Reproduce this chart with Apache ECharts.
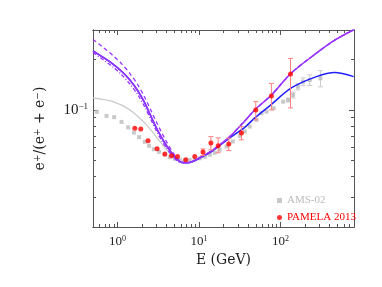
<!DOCTYPE html>
<html><head><meta charset="utf-8">
<script src="https://cdn.jsdelivr.net/npm/echarts@6/dist/echarts.min.js"></script>
<style>html,body{margin:0;padding:0;background:#fff}#c{width:382px;height:287px}</style>
</head><body><div id="c"></div><script>
// ---- model curves ----
const energyModel = [0.5,0.66,0.88,1.13,1.42,1.78,2.16,2.56,3.0,3.5,4.0,4.8,5.8,6.7,7.7,10.2,14.9,23.9,36.5,48.4,77.6,136,277,464,793];
const purpleSolid = [0.2254,0.2068,0.1878,0.1695,0.1509,0.1297,0.1101,0.0921,0.0781,0.0681,0.0611,0.054,0.0492,0.0484,0.0486,0.0518,0.0578,0.0693,0.086,0.100,0.1228,0.166,0.2184,0.261,0.301];
const purpleDashed = [0.2635,0.2371,0.2111,0.1878,0.1649,0.1408,0.1187,0.100,0.0848,0.073,0.0645,0.0555,0.0497,0.0484,0.0486,0.0518,0.0578,0.0693,0.086,0.100,0.1228,0.166,0.2184,0.261,0.301];
const purpleDashDot = [0.22,0.1998,0.1803,0.1615,0.1428,0.1228,0.1042,0.0878,0.075,0.0654,0.059,0.0525,0.0487,0.0484,0.0486,0.0518,0.0578,0.0693,0.086,0.100,0.1228,0.166,0.2184,0.261,0.301];
const blueSolid = [0.2254,0.2068,0.1878,0.1695,0.1509,0.1297,0.1101,0.0921,0.0781,0.0681,0.0611,0.054,0.0492,0.0484,0.0486,0.0515,0.0572,0.0681,0.0787,0.0896,0.108,0.1352,0.158,0.1672,0.158];
const energyGrey = [0.5,0.88,1.42,2.27,3.3,4.38,5.8,7.7];
const greyModel = [0.1179,0.112,0.100,0.0814,0.0648,0.0552,0.0504,0.049];
// ---- AMS-02 ----
const amsE = [0.557,0.733,0.908,1.12,1.35,1.59,1.84,2.16,2.44,2.79,3.24,3.81,4.38,5.05,5.81,6.70,7.71,8.88,10.2,11.8,13.6,15.6,18.0,21.8,26.0,31.7,36.5,42.0,50.8,58.5,67.3,82.7,108,124,143,164,189,229,310];
const amsV = [0.0973,0.0921,0.0905,0.0848,0.0787,0.0732,0.0688,0.0645,0.0611,0.0583,0.0562,0.054,0.0522,0.0511,0.0504,0.0499,0.0501,0.0506,0.0514,0.0525,0.054,0.0555,0.0578,0.0605,0.0648,0.07,0.0743,0.0795,0.0872,0.0956,0.0977,0.1023,0.112,0.1147,0.1228,0.1376,0.1474,0.151,0.1544];
const amsErr = [0,0,0,0,0,0,0,0,0,0,0,0,0,0,0,0,0,0,0,0,0,0,0,0,0,0,0,0,0,0,0,0,0,0.003,0.005,0.006,0.008,0.011,0.017];
// ---- PAMELA 2013 ----
const pamE = [1.63,1.93,2.37,3.06,3.81,4.60,5.45,6.89,8.88,11.2,14.0,17.2,23.2,33.2,49.8,77.5,133];
const pamV = [0.0778,0.0768,0.0654,0.0586,0.0545,0.0532,0.0527,0.0504,0.0527,0.056,0.0634,0.0611,0.0625,0.0727,0.100,0.121,0.164];
const pamLo = [null,null,null,null,null,null,null,null,null,0.0535,0.0578,0.0555,0.0572,0.0663,0.0872,0.100,0.1028];
const pamHi = [null,null,null,null,null,null,null,null,null,0.0585,0.0693,0.0681,0.0678,0.0795,0.112,0.144,0.203];
// ---- ticks ----
const xMajor = [1,10,100];
const xMinor = [0.6,0.7,0.8,0.9,2,3,4,5,6,7,8,9,20,30,40,50,60,70,80,90,200,300,400,500,600,700];
const yMajor = [0.1];
const yMinor = [0.03,0.04,0.05,0.06,0.07,0.08,0.09,0.2];
const xLabelExp = {1:'0',10:'1',100:'2'};
const yLabelExp = {0.1:'\u22121'};

const AX = '#555';
const serif = 'Liberation Serif';
function supLabel(map){ return v => { const k = Object.keys(map).find(kk => Math.abs(+kk - v) / v < 1e-6); return k ? '{b|10}{s|' + map[k] + '}' : ''; }; }
function xAxis(pos, ticks, len, lbl){
  return {type:'log', logBase:10, min:0.5, max:800, position:pos, gridIndex:0,
    axisLine:{show:true, onZero:false, lineStyle:{color:AX, width:1}},
    axisTick:{show:true, inside:true, length:len, customValues:ticks, lineStyle:{color:AX, width:1}},
    axisLabel:lbl ? {show:true, customValues:xMajor, margin:8, formatter:supLabel(xLabelExp),
      rich:{b:{fontFamily:serif, fontSize:13, color:'#222'}, s:{fontFamily:serif, fontSize:8, color:'#222', verticalAlign:'top'}}} : {show:false},
    splitLine:{show:false}, minorTick:{show:false}};
}
function yAxis(pos, ticks, len, lbl){
  return {type:'log', logBase:10, min:0.02, max:0.3, position:pos, gridIndex:0,
    axisLine:{show:true, onZero:false, lineStyle:{color:AX, width:1}},
    axisTick:{show:true, inside:true, length:len, customValues:ticks, lineStyle:{color:AX, width:1}},
    axisLabel:lbl ? {show:true, customValues:yMajor, margin:5, formatter:supLabel(yLabelExp),
      rich:{b:{fontFamily:serif, fontSize:15, color:'#222'}, s:{fontFamily:serif, fontSize:9, color:'#222', verticalAlign:'top'}}} : {show:false},
    splitLine:{show:false}, minorTick:{show:false}};
}
const xs = [xAxis('bottom', xMajor, 5, true), xAxis('bottom', xMinor, 3, false), xAxis('top', xMajor, 5, false), xAxis('top', xMinor, 3, false)];
const ys = [yAxis('left', yMajor, 5, true), yAxis('left', yMinor, 3, false), yAxis('right', yMajor, 5, false), yAxis('right', yMinor, 3, false)];
xs[0].name = 'E (GeV)'; xs[0].nameLocation = 'middle'; xs[0].nameGap = 25;
xs[0].nameTextStyle = {fontFamily:'DejaVu Serif', fontSize:14, color:'#222'};
ys[0].name = '{b|e}{s|+}{b|/(e}{s|+}{b| + e}{s|\u2212}{b|)}'; ys[0].nameLocation = 'middle'; ys[0].nameGap = 46; ys[0].nameRotate = 90;
ys[0].nameTextStyle = {rich:{b:{fontFamily:'DejaVu Serif', fontSize:14, color:'#222'}, s:{fontFamily:'DejaVu Serif', fontSize:9, color:'#222', verticalAlign:'top'}}};

function zip(a,b){ return a.map((v,i)=>[v,b[i]]); }
function lineSeries(name, e, v, color, type, w, z){
  return {name, type:'line', data:zip(e,v), showSymbol:false, smooth:0.3, z,
    lineStyle:{color, width:w, type}, itemStyle:{color}, silent:true};
}
function errSeries(name, e, lo, hi, color, z){
  const data = [];
  e.forEach((x,i)=>{ if (lo[i] != null && hi[i] != null && hi[i] > lo[i]) data.push([x, lo[i], hi[i]]); });
  return {name, type:'custom', z, silent:true, data, encode:{x:0, y:[1,2]},
    renderItem(params, api){
      const p1 = api.coord([api.value(0), api.value(1)]);
      const p2 = api.coord([api.value(0), api.value(2)]);
      const w = 2.5, st = {stroke:color, lineWidth:1};
      return {type:'group', children:[
        {type:'line', shape:{x1:p1[0], y1:p1[1], x2:p2[0], y2:p2[1]}, style:st},
        {type:'line', shape:{x1:p1[0]-w, y1:p1[1], x2:p1[0]+w, y2:p1[1]}, style:st},
        {type:'line', shape:{x1:p2[0]-w, y1:p2[1], x2:p2[0]+w, y2:p2[1]}, style:st}]};
    }};
}
const amsLo = amsV.map((v,i)=> amsErr[i] ? v - amsErr[i] : null);
const amsHi = amsV.map((v,i)=> amsErr[i] ? v + amsErr[i] : null);

const chart = echarts.init(document.getElementById('c'), null, {renderer:'canvas'});
chart.setOption({
  animation:false, backgroundColor:'#fff',
  grid:{left:93, right:28, top:30, bottom:60, containLabel:false},
  xAxis:xs, yAxis:ys,
  legend:{orient:'vertical', left:272, top:190, itemWidth:5, itemHeight:5, itemGap:6, selectedMode:false,
    textStyle:{fontFamily:serif, fontSize:11},
    data:[{name:'AMS-02', icon:'rect', textStyle:{color:'#bbbbbb'}},
          {name:'PAMELA 2013', icon:'circle', textStyle:{color:'#ff0000'}}]},
  series:[
    errSeries('amsErr', amsE, amsLo, amsHi, '#cccccc', 1),
    {name:'AMS-02', type:'scatter', data:zip(amsE, amsV), symbol:'rect', symbolSize:4, itemStyle:{color:'#bbbbbb'}, z:2, silent:true},
    lineSeries('grey', energyGrey, greyModel, '#c8c8c8', 'solid', 1.2, 3),
    lineSeries('blue', energyModel, blueSolid, '#1f1fff', 'solid', 1.5, 4),
    lineSeries('dashdot', energyModel, purpleDashDot, '#9933ff', [4,2,1,2], 1.3, 5),
    lineSeries('dashed', energyModel, purpleDashed, '#9933ff', [4,3], 1.3, 5),
    lineSeries('solid', energyModel, purpleSolid, '#9933ff', 'solid', 1.5, 6),
    errSeries('pamErr', pamE, pamLo, pamHi, '#ff8080', 7),
    {name:'PAMELA 2013', type:'scatter', data:zip(pamE, pamV), symbol:'circle', symbolSize:5, itemStyle:{color:'#ff0000'}, z:8, silent:true}
  ]
});
</script></body></html>
